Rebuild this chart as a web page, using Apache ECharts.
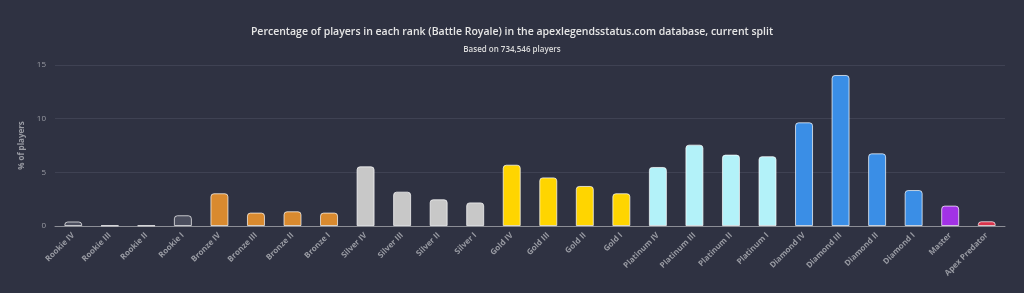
<!DOCTYPE html>
<html><head><meta charset="utf-8">
<script src="https://cdn.jsdelivr.net/npm/echarts@6/dist/echarts.min.js"></script>
<style>html,body{margin:0;padding:0;background:#2f3242;}#c{width:1024px;height:293px;}</style>
</head><body><div id="c"></div>
<script>
var categories = ["Rookie IV","Rookie III","Rookie II","Rookie I","Bronze IV","Bronze III","Bronze II","Bronze I","Silver IV","Silver III","Silver II","Silver I","Gold IV","Gold III","Gold II","Gold I","Platinum IV","Platinum III","Platinum II","Platinum I","Diamond IV","Diamond III","Diamond II","Diamond I","Master","Apex Predator"];
var values = [0.42,0.05,0.05,1.0,3.05,1.25,1.37,1.25,5.56,3.2,2.49,2.2,5.71,4.53,3.73,3.05,5.5,7.58,6.65,6.5,9.66,14.07,6.77,3.35,1.9,0.44];
var tierColors = ["#4b4e5e","#4b4e5e","#4b4e5e","#4b4e5e","#d98a2f","#d98a2f","#d98a2f","#d98a2f","#c8c8c8","#c8c8c8","#c8c8c8","#c8c8c8","#ffd500","#ffd500","#ffd500","#ffd500","#b3f2f9","#b3f2f9","#b3f2f9","#b3f2f9","#3a8ee6","#3a8ee6","#3a8ee6","#3a8ee6","#a232e6","#d9334b"];
var yTicks = [0,5,10,15];
var chart = echarts.init(document.getElementById('c'), null, {renderer:'canvas'});
var font = "'Open Sans', sans-serif";
chart.setOption({
  backgroundColor:'#2f3242',
  animation:false,
  title:{
    text:'Percentage of players in each rank (Battle Royale) in the apexlegendsstatus.com database, current split',
    subtext:'Based on 734,546 players',
    left:'center', top:22, itemGap:8,
    textStyle:{color:'#e6e6e6', fontSize:10.5, fontWeight:600, fontFamily:font},
    subtextStyle:{color:'#dcdcdc', fontSize:8, fontWeight:600, fontFamily:font}
  },
  grid:{left:55, right:19, top:65, bottom:67, containLabel:false},
  xAxis:{
    type:'category', data:categories,
    axisLine:{lineStyle:{color:'#8c8e96', width:1}},
    axisTick:{show:false},
    axisLabel:{rotate:45, color:'#9a9ca4', fontSize:8, fontWeight:700, fontFamily:font, margin:8, interval:0}
  },
  yAxis:{
    type:'value', min:yTicks[0], max:yTicks[yTicks.length-1], interval:5,
    name:'% of players', nameLocation:'middle', nameGap:19, nameRotate:90,
    nameTextStyle:{color:'#9a9ca4', fontSize:8, fontWeight:700, fontFamily:font},
    axisLabel:{color:'#9a9ca4', fontSize:8, fontFamily:font, margin:9},
    axisLine:{show:false}, axisTick:{show:false},
    splitLine:{lineStyle:{color:'#3f4253', width:1}}
  },
  series:[{
    type:'bar', barWidth:18,
    data: values.map(function(v,i){return {value:v, itemStyle:{color:tierColors[i]}};}),
    itemStyle:{borderColor:'rgba(255,255,255,0.7)', borderWidth:1, borderRadius:[3,3,0,0]}
  }]
});
</script></body></html>
